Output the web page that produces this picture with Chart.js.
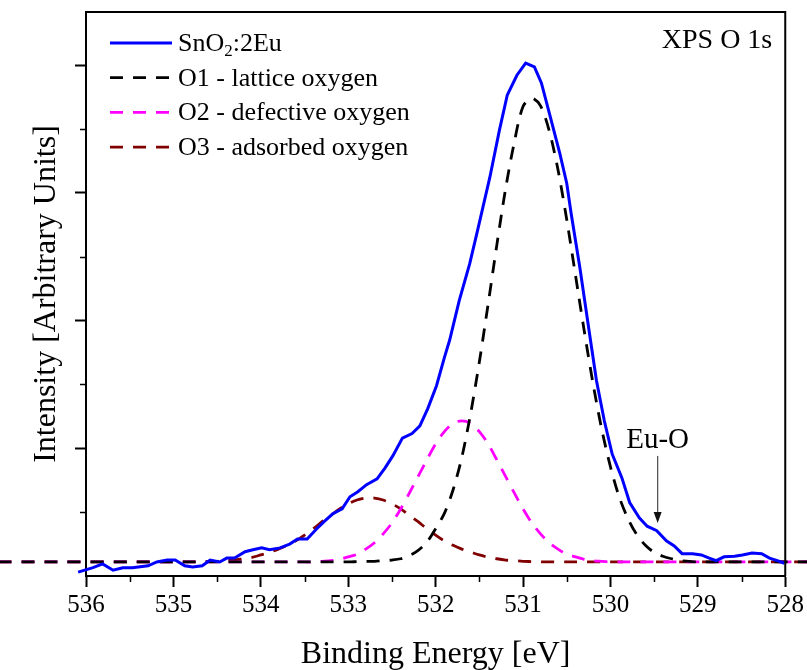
<!DOCTYPE html>
<html>
<head>
<meta charset="utf-8">
<script src="https://cdn.jsdelivr.net/npm/chart.js@4.4.0/dist/chart.umd.min.js"></script>
<style>
  html, body { margin: 0; padding: 0; background: #fff; }
  #wrap { width: 807px; height: 670px; }
</style>
</head>
<body>
<div id="wrap"><canvas id="xpsChart" width="807" height="670"></canvas></div>
<script>
// measured spectrum (binding energy in eV, intensity in arbitrary units)
const expEnergy = [
  536.09, 535.92, 535.81, 535.69, 535.58, 535.47, 535.29, 535.19, 535.07, 534.98,
  534.87, 534.78, 534.67, 534.58, 534.47, 534.39, 534.30, 534.18, 534.09, 533.99,
  533.90, 533.78, 533.67, 533.58, 533.47, 533.36, 533.27, 533.18, 533.07, 532.98,
  532.89, 532.79, 532.67, 532.58, 532.49, 532.38, 532.27, 532.18, 532.09, 531.99,
  531.90, 531.84, 531.73, 531.61, 531.52, 531.38, 531.27, 531.18, 531.07, 530.97,
  530.87, 530.79, 530.70, 530.58, 530.50, 530.45, 530.35, 530.24, 530.16, 530.07,
  529.98, 529.87, 529.78, 529.67, 529.58, 529.47, 529.36, 529.27, 529.18, 529.06,
  528.96, 528.87, 528.79, 528.70, 528.58, 528.49, 528.38, 528.27, 528.18, 528.09,
  528.01
];
const expIntensity = [
  0.06, 0.13, 0.19, 0.09, 0.13, 0.13, 0.16, 0.22, 0.25, 0.25,
  0.16, 0.14, 0.16, 0.25, 0.22, 0.28, 0.28, 0.38, 0.41, 0.44,
  0.41, 0.44, 0.50, 0.58, 0.58, 0.74, 0.86, 0.97, 1.05, 1.24,
  1.32, 1.43, 1.52, 1.69, 1.88, 2.16, 2.23, 2.35, 2.62, 2.98,
  3.42, 3.69, 4.31, 4.89, 5.41, 6.24, 6.98, 7.53, 7.84, 8.03,
  7.97, 7.72, 7.25, 6.62, 6.15, 5.68, 4.83, 3.80, 3.06, 2.43,
  1.91, 1.54, 1.15, 0.91, 0.78, 0.71, 0.55, 0.47, 0.35, 0.35,
  0.33, 0.28, 0.24, 0.30, 0.31, 0.33, 0.36, 0.35, 0.28, 0.24,
  0.20
];

// fitted components, all on the same energy grid
const fitEnergy = [
  537.0,
  534.8, 534.7, 534.6, 534.5, 534.4, 534.3, 534.2, 534.1, 534.0, 533.9,
  533.8, 533.7, 533.6, 533.5, 533.4, 533.3, 533.2, 533.1, 533.0, 532.9,
  532.8, 532.7, 532.6, 532.5, 532.4, 532.3, 532.2, 532.1, 532.0, 531.9,
  531.8, 531.7, 531.6, 531.5, 531.4, 531.3, 531.2, 531.1, 531.0, 530.9,
  530.8, 530.7, 530.6, 530.5, 530.4, 530.3, 530.2, 530.1, 530.0, 529.9,
  529.8, 529.7, 529.6, 529.5, 529.4, 529.3, 529.2, 529.1, 529.0, 528.9,
  527.0
];
const latticeO1 = [
  0.22,
  0.22, 0.22, 0.22, 0.22, 0.22, 0.22, 0.22, 0.22, 0.22, 0.22,
  0.22, 0.22, 0.22, 0.22, 0.22, 0.22, 0.22, 0.22, 0.22, 0.225,
  0.23, 0.23, 0.24, 0.25, 0.27, 0.32, 0.40, 0.53, 0.74, 0.98,
  1.35, 1.86, 2.54, 3.35, 4.25, 5.18, 6.06, 6.79, 7.35, 7.48,
  7.36, 6.97, 6.36, 5.58, 4.71, 3.84, 3.02, 2.30, 1.71, 1.24,
  0.90, 0.65, 0.48, 0.37, 0.31, 0.27, 0.24, 0.23, 0.22, 0.22,
  0.22
];
const defectiveO2 = [
  0.22,
  0.22, 0.22, 0.22, 0.22, 0.22, 0.22, 0.22, 0.22, 0.22, 0.22,
  0.22, 0.22, 0.22, 0.22, 0.22, 0.23, 0.24, 0.26, 0.30, 0.34,
  0.42, 0.52, 0.66, 0.83, 1.05, 1.30, 1.56, 1.82, 2.07, 2.26,
  2.39, 2.43, 2.39, 2.26, 2.07, 1.82, 1.56, 1.30, 1.05, 0.83,
  0.66, 0.52, 0.42, 0.34, 0.30, 0.26, 0.24, 0.23, 0.22, 0.22,
  0.22, 0.22, 0.22, 0.22, 0.22, 0.22, 0.22, 0.22, 0.22, 0.22,
  0.22
];
const adsorbedO3 = [
  0.22,
  0.22, 0.222, 0.226, 0.23, 0.24, 0.25, 0.27, 0.29, 0.33, 0.37,
  0.42, 0.48, 0.55, 0.64, 0.74, 0.85, 0.95, 1.05, 1.13, 1.19,
  1.22, 1.22, 1.19, 1.13, 1.05, 0.95, 0.85, 0.74, 0.64, 0.55,
  0.48, 0.42, 0.375, 0.33, 0.295, 0.27, 0.25, 0.24, 0.23, 0.226,
  0.222, 0.22, 0.22, 0.22, 0.22, 0.22, 0.22, 0.22, 0.22, 0.22,
  0.22, 0.22, 0.22, 0.22, 0.22, 0.22, 0.22, 0.22, 0.22, 0.22,
  0.22
];

const seriesNames = ['SnO_2:2Eu', 'O1 - lattice oxygen', 'O2 - defective oxygen', 'O3 - adsorbed oxygen'];
const seriesColors = ['#0000ff', '#000000', '#ff00ff', '#800000'];

const majorEnergyTicks = [536, 535, 534, 533, 532, 531, 530, 529, 528];
const minorEnergyTicks = [535.5, 534.5, 533.5, 532.5, 531.5, 530.5, 529.5, 528.5];
const majorIntensityTicks = [2, 4, 6, 8];
const minorIntensityTicks = [1, 3, 5, 7];

// Eu-O shoulder marker: energy, arrow top / bottom, label baseline
const euOEnergy = 529.46;
const euOArrowTop = 1.88;
const euOArrowBottom = 0.83;
const euOLabelY = 2.0;

const serif = "'Liberation Serif', 'Times New Roman', serif";

function toPoints(xs, ys) {
  return xs.map((x, i) => ({ x: x, y: ys[i] }));
}

// draws text where "_2" means subscript 2
function drawRichText(ctx, text, x, y, size) {
  const parts = text.split(/(_\w)/);
  parts.forEach(part => {
    if (part.startsWith('_')) {
      ctx.font = (size * 0.65) + 'px ' + serif;
      ctx.fillText(part.slice(1), x, y + size * 0.3);
      x += ctx.measureText(part.slice(1)).width;
    } else if (part.length) {
      ctx.font = size + 'px ' + serif;
      ctx.fillText(part, x, y);
      x += ctx.measureText(part).width;
    }
  });
}

const decorations = {
  id: 'decorations',
  afterDraw(chart) {
    const ctx = chart.ctx;
    const area = chart.chartArea;
    const xs = chart.scales.x;
    const ys = chart.scales.y;
    ctx.save();

    // top and right side of the frame
    ctx.strokeStyle = '#000';
    ctx.lineWidth = 2;
    ctx.setLineDash([]);
    ctx.beginPath();
    ctx.moveTo(area.left - 1, area.top);
    ctx.lineTo(area.right, area.top);
    ctx.lineTo(area.right, area.bottom);
    ctx.stroke();

    // minor ticks
    ctx.lineWidth = 1.5;
    ctx.beginPath();
    minorEnergyTicks.forEach(v => {
      const px = Math.round(xs.getPixelForValue(v)) + 0.5;
      ctx.moveTo(px, area.bottom);
      ctx.lineTo(px, area.bottom + 6);
    });
    minorIntensityTicks.forEach(v => {
      const py = Math.round(ys.getPixelForValue(v)) + 0.5;
      ctx.moveTo(area.left, py);
      ctx.lineTo(area.left - 6, py);
    });
    ctx.stroke();

    // legend
    chart.data.datasets.forEach((ds, i) => {
      const y = area.top + 31 + i * 34.7;
      ctx.strokeStyle = ds.borderColor;
      ctx.lineWidth = ds.borderWidth;
      ctx.setLineDash(ds.borderDash || []);
      ctx.beginPath();
      ctx.moveTo(area.left + 24, y);
      ctx.lineTo(area.left + 86, y);
      ctx.stroke();
      ctx.setLineDash([]);
      ctx.fillStyle = '#000';
      ctx.textAlign = 'left';
      ctx.textBaseline = 'middle';
      drawRichText(ctx, seriesNames[i], area.left + 92, y + 1, 26);
    });

    // panel title
    ctx.fillStyle = '#000';
    ctx.font = '28px ' + serif;
    ctx.textAlign = 'right';
    ctx.textBaseline = 'alphabetic';
    ctx.fillText('XPS O 1s', area.right - 13, area.top + 36);

    // Eu-O marker
    const ax = xs.getPixelForValue(euOEnergy);
    const aTop = ys.getPixelForValue(euOArrowTop);
    const aBot = ys.getPixelForValue(euOArrowBottom);
    ctx.font = '29px ' + serif;
    ctx.textAlign = 'center';
    ctx.fillText('Eu-O', ax, ys.getPixelForValue(euOLabelY));
    ctx.strokeStyle = '#555';
    ctx.lineWidth = 1.3;
    ctx.beginPath();
    ctx.moveTo(ax, aTop);
    ctx.lineTo(ax, aBot - 8);
    ctx.stroke();
    ctx.fillStyle = '#111';
    ctx.beginPath();
    ctx.moveTo(ax, aBot);
    ctx.lineTo(ax - 4, aBot - 11);
    ctx.lineTo(ax + 4, aBot - 11);
    ctx.closePath();
    ctx.fill();

    ctx.restore();
  }
};

const fitStyle = {
  borderWidth: 2.8,
  borderDash: [13, 10],
  pointRadius: 0,
  tension: 0.3,
  fill: false,
  clip: false
};

new Chart(document.getElementById('xpsChart'), {
  type: 'line',
  data: {
    datasets: [
      {
        label: seriesNames[0],
        data: toPoints(expEnergy, expIntensity),
        borderColor: seriesColors[0],
        borderWidth: 3,
        pointRadius: 0,
        tension: 0,
        fill: false,
        clip: false
      },
      Object.assign({ label: seriesNames[1], data: toPoints(fitEnergy, latticeO1), borderColor: seriesColors[1] }, fitStyle),
      Object.assign({ label: seriesNames[2], data: toPoints(fitEnergy, defectiveO2), borderColor: seriesColors[2] }, fitStyle),
      Object.assign({ label: seriesNames[3], data: toPoints(fitEnergy, adsorbedO3), borderColor: seriesColors[3] }, fitStyle)
    ]
  },
  options: {
    responsive: false,
    animation: false,
    layout: { padding: { left: 20.8, right: 21, top: 12, bottom: 0 } },
    plugins: {
      legend: { display: false },
      tooltip: { enabled: false }
    },
    scales: {
      x: {
        type: 'linear',
        reverse: true,
        min: 528,
        max: 536,
        afterBuildTicks: scale => {
          scale.ticks = majorEnergyTicks.map(v => ({ value: v }));
        },
        ticks: {
          color: '#000',
          font: { family: serif, size: 25 },
          padding: 3,
          maxRotation: 0,
          autoSkip: false
        },
        grid: {
          drawOnChartArea: false,
          drawTicks: true,
          tickLength: 11,
          tickWidth: 2,
          tickColor: '#000'
        },
        border: { display: true, color: '#000', width: 2 },
        title: {
          display: true,
          text: 'Binding Energy [eV]',
          color: '#000',
          font: { family: serif, size: 32 },
          padding: { top: 12.6, bottom: -4 }
        }
      },
      y: {
        type: 'linear',
        min: 0,
        max: 8.83,
        afterBuildTicks: scale => {
          scale.ticks = majorIntensityTicks.map(v => ({ value: v }));
        },
        ticks: { display: false },
        grid: {
          drawOnChartArea: false,
          drawTicks: true,
          tickLength: 11,
          tickWidth: 2,
          tickColor: '#000'
        },
        border: { display: true, color: '#000', width: 2 },
        title: {
          display: true,
          text: 'Intensity [Arbitrary Units]',
          color: '#000',
          font: { family: serif, size: 32 },
          padding: { top: 7, bottom: 8.8 }
        }
      }
    }
  },
  plugins: [decorations]
});
</script>
</body>
</html>
